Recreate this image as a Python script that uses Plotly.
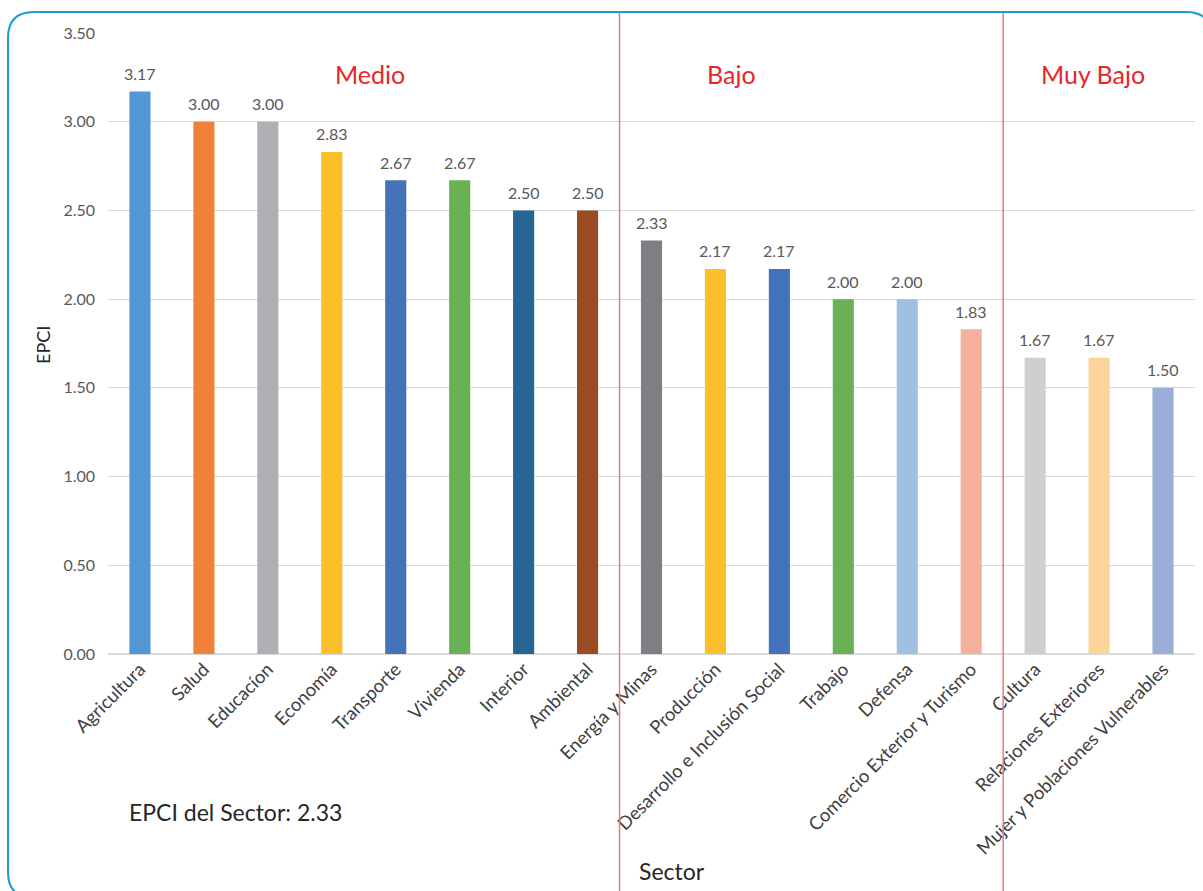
import plotly.graph_objects as go

categories = ["Agricultura", "Salud", "Educacíon", "Economía", "Transporte", "Vivienda",
              "Interior", "Ambiental", "Energía y Minas", "Producción",
              "Desarrollo e Inclusión Social", "Trabajo", "Defensa",
              "Comercio Exterior y Turismo", "Cultura", "Relaciones Exteriores",
              "Mujer y Poblaciones Vulnerables"]
values = [3.17, 3.00, 3.00, 2.83, 2.67, 2.67, 2.50, 2.50, 2.33, 2.17, 2.17,
          2.00, 2.00, 1.83, 1.67, 1.67, 1.50]
colors = ["#5296d5", "#f08139", "#b0b0b4", "#fbbf2a", "#4372bb", "#6ab155",
          "#266594", "#9a4b22", "#7e7e83", "#fdbe2b", "#4172bb", "#6ab155",
          "#9fc0e3", "#f4b19a", "#cfcfd1", "#fcd499", "#9aaed8"]
group_labels = ["Medio", "Bajo", "Muy Bajo"]
group_label_pos = [3.6, 9.25, 14.9]
group_bounds = [7.5, 13.5]
y_ticks = [0, 0.5, 1.0, 1.5, 2.0, 2.5, 3.0, 3.5]
sector_epci = 2.33

FONT = "Lato"
W, H = 1203, 891
L, R, T, B = 108, 8, 33, 237
PW, PH = W - L - R, H - T - B

def px2paper(px, py):
    return (px - L) / PW, (H - B - py) / PH

fig = go.Figure()
fig.add_trace(go.Bar(
    x=categories, y=values, marker=dict(color=colors, line=dict(width=0)),
    width=0.33, showlegend=False, hoverinfo="x+y"))

for c, v in zip(categories, values):
    fig.add_annotation(x=c, y=v, text=f"{v:.2f}", showarrow=False, yshift=18,
                       yanchor="middle", font=dict(family=FONT, size=16, color="#595959"))

for lab, pos in zip(group_labels, group_label_pos):
    fig.add_annotation(x=pos, y=3.27, text=lab, showarrow=False, xref="x", yref="y",
                       font=dict(family=FONT, size=25, color="#e8262a"))

_, ytop = px2paper(0, 12)
_, ybot = px2paper(0, 891)
for b in group_bounds:
    fig.add_shape(type="line", xref="x", yref="paper", x0=b, x1=b, y0=ybot, y1=ytop,
                  line=dict(color="#ec7a7d", width=1.5))

# rounded border
x0p, x1p, y0p, y1p, r = 8, 1212, 12, 898, 26
def P(px, py):
    a, b = px2paper(px, py)
    return f"{a:.5f},{b:.5f}"
path = (f"M {P(x0p + r, y0p)} L {P(x1p - r, y0p)} Q {P(x1p, y0p)} {P(x1p, y0p + r)} "
        f"L {P(x1p, y1p - r)} Q {P(x1p, y1p)} {P(x1p - r, y1p)} "
        f"L {P(x0p + r, y1p)} Q {P(x0p, y1p)} {P(x0p, y1p - r)} "
        f"L {P(x0p, y0p + r)} Q {P(x0p, y0p)} {P(x0p + r, y0p)} Z")
fig.add_shape(type="path", xref="paper", yref="paper", path=path,
              line=dict(color="#1a9bd6", width=2))

ax, ay = px2paper(43, 345)
fig.add_annotation(x=ax, y=ay, xref="paper", yref="paper", text="EPCI", textangle=-90,
                   xanchor="center", yanchor="middle",
                   showarrow=False, font=dict(family=FONT, size=18, color="#262626"))
ax, ay = px2paper(672, 871)
fig.add_annotation(x=ax, y=ay, xref="paper", yref="paper", text="Sector",
                   xanchor="center", yanchor="middle",
                   showarrow=False, font=dict(family=FONT, size=23, color="#262626"))
ax, ay = px2paper(127, 812)
fig.add_annotation(x=ax, y=ay, xref="paper", yref="paper", xanchor="left",
                   yanchor="middle",
                   text=f"EPCI del Sector: {sector_epci:.2f}",
                   showarrow=False, font=dict(family=FONT, size=23, color="#262626"))

fig.update_layout(
    width=W, height=H, margin=dict(l=L, r=R, t=T, b=B, autoexpand=False),
    paper_bgcolor="white", plot_bgcolor="white",
    font=dict(family=FONT),
    xaxis=dict(range=[-0.5, 16.5], tickangle=-45, showgrid=False, showline=False,
               ticks="", tickfont=dict(family=FONT, size=18.5, color="#404040")),
    yaxis=dict(range=[0, 3.5], tickvals=y_ticks, ticktext=[f"{t:.2f}" for t in y_ticks],
               showgrid=True, gridcolor="#d9d9d9", gridwidth=1, zeroline=True,
               zerolinecolor="#d9d9d9", zerolinewidth=1.5, showline=False, ticks="",
               ticklabelstandoff=12,
               tickfont=dict(family=FONT, size=16, color="#595959")),
)

fig.write_html("out.html", config={"displayModeBar": False},
               post_script="document.body.style.margin='0';document.body.style.padding='0';")
